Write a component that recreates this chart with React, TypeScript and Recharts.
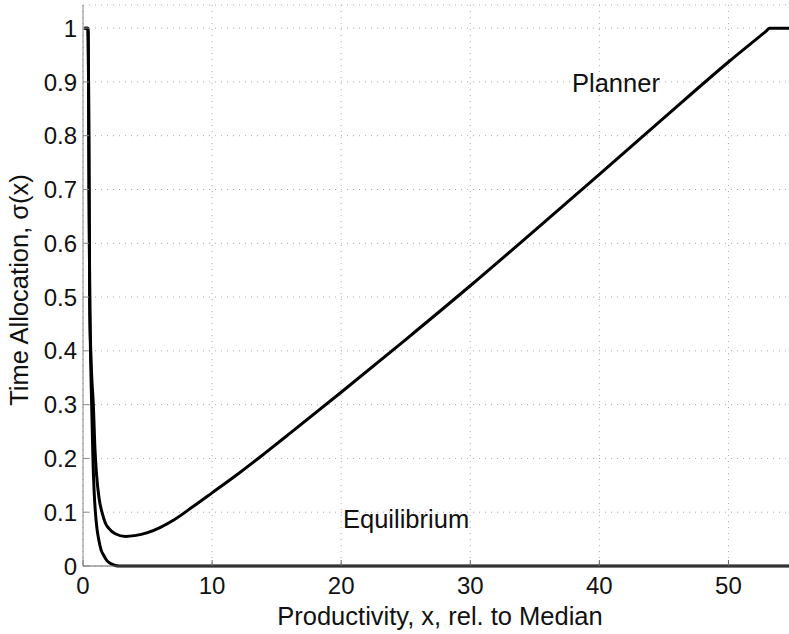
import { LineChart, Line, XAxis, YAxis, CartesianGrid } from 'recharts'

// Planner curve (x = productivity relative to median, y = sigma(x))
const plannerX = [0.1, 0.38, 0.43, 0.47, 0.52, 0.6, 0.68, 0.8, 0.92, 1.05, 1.25, 1.47, 1.73, 2.0, 2.5, 3.3, 4, 5, 6, 7, 8.5, 10, 12, 14, 16, 20, 25, 30, 35, 40, 45, 50, 52.9, 53.2, 55]
const plannerY = [1, 1, 0.9, 0.7, 0.5, 0.4, 0.35, 0.3, 0.22, 0.17, 0.125, 0.1, 0.08, 0.07, 0.06, 0.055, 0.0565, 0.062, 0.072, 0.085, 0.11, 0.136, 0.171, 0.208, 0.246, 0.323, 0.421, 0.521, 0.624, 0.728, 0.833, 0.937, 0.994, 1, 1]

// Equilibrium curve
const equilibriumX = [0.1, 0.38, 0.43, 0.47, 0.52, 0.58, 0.64, 0.7, 0.77, 0.86, 0.96, 1.08, 1.21, 1.4, 1.6, 1.85, 2.1, 2.5, 2.8, 55]
const equilibriumY = [1, 1, 0.9, 0.7, 0.5, 0.4, 0.33, 0.27, 0.2, 0.14, 0.1, 0.07, 0.05, 0.03, 0.02, 0.01, 0.005, 0.001, 0, 0]

const xTicks = [0, 10, 20, 30, 40, 50]
const yTicks = [0, 0.1, 0.2, 0.3, 0.4, 0.5, 0.6, 0.7, 0.8, 0.9, 1]

const planner = plannerX.map((x, i) => ({ x, y: plannerY[i] }))
const equilibrium = equilibriumX.map((x, i) => ({ x, y: equilibriumY[i] }))

const FONT = '"Liberation Sans", Arial, Helvetica, sans-serif'

const XTick = ({ x, y, payload }: any) => (
  <text x={x} y={y + 34} textAnchor="middle" fontSize={24} fontFamily={FONT} fill="#111">
    {payload.value}
  </text>
)

const YTick = ({ x, y, payload }: any) => (
  <text x={x - 12} y={y} dy="0.36em" textAnchor="end" fontSize={24} fontFamily={FONT} fill="#111">
    {payload.value}
  </text>
)

const Labels = () => (
  <g fontFamily={FONT} fontSize={25.5} fill="#111">
    <text x={440} y={625} textAnchor="middle">Productivity, x, rel. to Median</text>
    <text x={28} y={290} textAnchor="middle" transform="rotate(-90 28 290)">Time Allocation, σ(x)</text>
    <text x={572} y={92}>Planner</text>
    <text x={343} y={528}>Equilibrium</text>
  </g>
)

export default function App() {
  return (
    <div style={{ position: 'absolute', left: 0, top: 0, width: 789, height: 634, overflow: 'hidden', background: '#fff' }}>
      <LineChart width={793} height={634} margin={{ top: 5, right: 0, bottom: 0, left: 0 }}>
        <CartesianGrid strokeDasharray="1 5" stroke="#a8a8a8" />
        <XAxis
          type="number" dataKey="x" domain={[0, 55]} ticks={xTicks} height={68}
          axisLine={{ stroke: '#666' }} tickLine={{ stroke: '#666' }} tickSize={-6} tickMargin={0}
          tick={<XTick />} interval={0}
        />
        <XAxis
          xAxisId="top" orientation="top" type="number" domain={[0, 55]} ticks={xTicks} height={0}
          axisLine={{ stroke: '#888' }} tickLine={{ stroke: '#888' }} tickSize={-6} tick={() => <g />}
        />
        <YAxis
          type="number" domain={[0, 1.043]} ticks={yTicks} width={83}
          axisLine={{ stroke: '#888' }} tickLine={{ stroke: '#888' }} tickSize={-6} tickMargin={0}
          tick={<YTick />} interval={0}
        />
        <Line data={equilibrium} dataKey="y" type="monotone" stroke="#000" strokeWidth={3} dot={false} isAnimationActive={false} />
        <Line data={planner} dataKey="y" type="monotone" stroke="#000" strokeWidth={3} dot={false} isAnimationActive={false} />
        <Labels />
      </LineChart>
    </div>
  )
}
